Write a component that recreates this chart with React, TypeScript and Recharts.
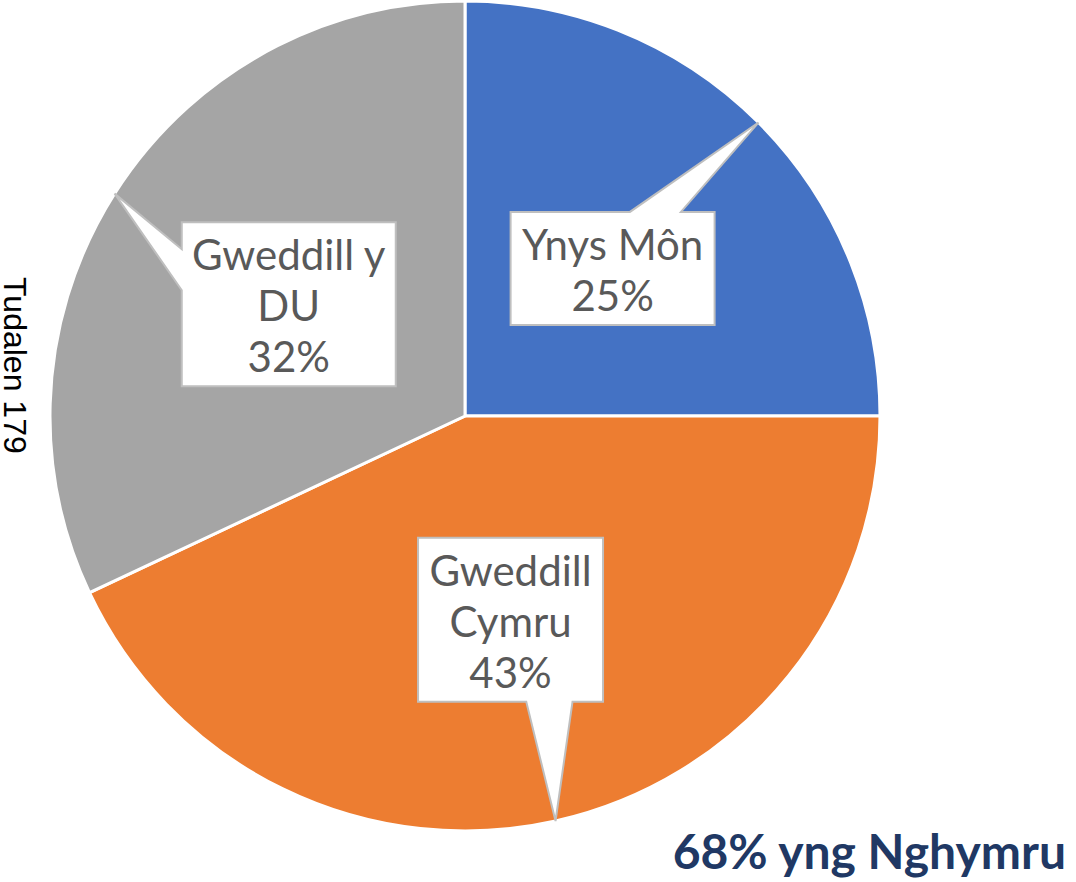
import { PieChart, Pie, Cell } from 'recharts';

const regions = ['Ynys Môn', 'Gweddill Cymru', 'Gweddill y DU'];
const shares = [25, 43, 32];
const labelLines = [['Ynys Môn'], ['Gweddill', 'Cymru'], ['Gweddill y', 'DU']];
const COLORS = ['#4472C4', '#ED7D31', '#A5A5A5'];
const BOX_WIDTHS = [204, 185, 214];

const data = regions.map((name, i) => ({ name, value: shares[i] }));

const RAD = Math.PI / 180;

function Callout(props: any) {
  const { cx, cy, midAngle, outerRadius, percent, index } = props;
  const cos = Math.cos(-midAngle * RAD);
  const sin = Math.sin(-midAngle * RAD);
  const tipX = cx + outerRadius * cos;
  const tipY = cy + outerRadius * sin;
  const bx = cx + outerRadius * 0.503 * cos;
  const by = cy + outerRadius * 0.503 * sin;

  const lines = [...labelLines[index], `${Math.round(percent * 100)}%`];
  const w = BOX_WIDTHS[index];
  const h = lines.length * 51 + 11;
  const x0 = bx - w / 2;
  const y0 = by - h / 2;
  const x1 = x0 + w;
  const y1 = y0 + h;

  const dx = tipX - bx;
  const dy = tipY - by;
  let d = '';
  if (Math.abs(dy) / (h / 2) > Math.abs(dx) / (w / 2)) {
    // pointer on top or bottom edge
    const s = dx >= 0 ? 1 : -1;
    const a = bx + s * w * 0.085;
    const b = bx + s * w * 0.335;
    const p1 = Math.min(a, b);
    const p2 = Math.max(a, b);
    if (dy < 0) {
      d = `M${x0},${y0} L${p1},${y0} L${tipX},${tipY} L${p2},${y0} L${x1},${y0} L${x1},${y1} L${x0},${y1} Z`;
    } else {
      d = `M${x0},${y0} L${x1},${y0} L${x1},${y1} L${p2},${y1} L${tipX},${tipY} L${p1},${y1} L${x0},${y1} Z`;
    }
  } else {
    const s = dy >= 0 ? 1 : -1;
    const a = by + s * h * 0.085;
    const b = by + s * h * 0.335;
    const p1 = Math.min(a, b);
    const p2 = Math.max(a, b);
    if (dx < 0) {
      d = `M${x0},${y0} L${x1},${y0} L${x1},${y1} L${x0},${y1} L${x0},${p2} L${tipX},${tipY} L${x0},${p1} Z`;
    } else {
      d = `M${x0},${y0} L${x1},${y0} L${x1},${p1} L${tipX},${tipY} L${x1},${p2} L${x1},${y1} L${x0},${y1} Z`;
    }
  }

  return (
    <g>
      <path d={d} fill="#ffffff" stroke="#BFBFBF" strokeWidth={2} />
      <text
        x={bx}
        y={y0 + 48}
        textAnchor="middle"
        fill="#595959"
        fontFamily="Lato"
        fontSize={42}
      >
        {lines.map((ln, i) => (
          <tspan key={i} x={bx} dy={i === 0 ? 0 : 51}>
            {ln}
          </tspan>
        ))}
      </text>
    </g>
  );
}

export default function App() {
  return (
    <div style={{ position: 'absolute', left: 0, top: 0, width: 1076, height: 882, background: '#fff' }}>
      <PieChart width={1076} height={882} margin={{ top: 0, right: 0, bottom: 0, left: 0 }}>
        <Pie
          data={data}
          dataKey="value"
          nameKey="name"
          cx={465}
          cy={416}
          outerRadius={415}
          startAngle={90}
          endAngle={-270}
          stroke="#ffffff"
          strokeWidth={3}
          label={Callout}
          labelLine={false}
          isAnimationActive={false}
        >
          {data.map((_, i) => (
            <Cell key={`cell-${i}`} fill={COLORS[i]} />
          ))}
        </Pie>
      </PieChart>
      <div
        style={{
          position: 'absolute',
          left: 27,
          top: 277,
          transformOrigin: '0 0',
          transform: 'rotate(90deg)',
          fontFamily: '"Liberation Sans", Arial, sans-serif',
          fontSize: 32,
          color: '#000',
          whiteSpace: 'nowrap',
          lineHeight: 0.8,
        }}
      >
        Tudalen 179
      </div>
      <div
        style={{
          position: 'absolute',
          right: 10,
          top: 827,
          fontFamily: 'Lato',
          fontWeight: 700,
          fontSize: 48,
          color: '#203864',
          whiteSpace: 'nowrap',
          lineHeight: 1,
        }}
      >
        68% yng Nghymru
      </div>
    </div>
  );
}
